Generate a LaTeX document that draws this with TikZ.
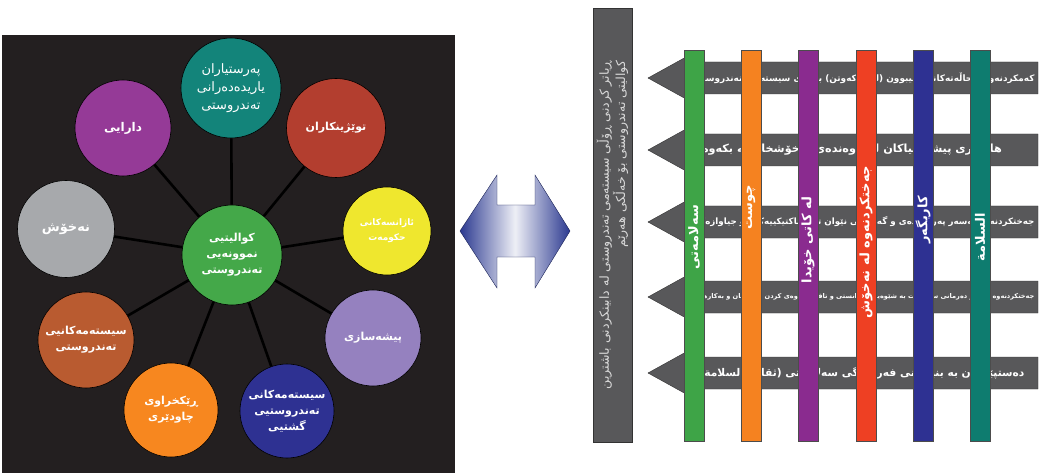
\documentclass[tikz,border=0pt]{standalone}
\usepackage{fontspec}
\newfontfamily\kufont[Script=Arabic]{DejaVu Sans}
\TeXXeTstate=1
\newcommand{\rl}[1]{\beginR#1\endR}
\definecolor{panel}{HTML}{231F20}
\definecolor{cteal}{HTML}{13847A}
\definecolor{cred}{HTML}{B33E2F}
\definecolor{cyellow}{HTML}{EFE72E}
\definecolor{clav}{HTML}{9581BF}
\definecolor{cnavy}{HTML}{2E3192}
\definecolor{corange}{HTML}{F7871F}
\definecolor{cbrown}{HTML}{B95B30}
\definecolor{cgray}{HTML}{A7A9AC}
\definecolor{cpurple}{HTML}{953A97}
\definecolor{cgreen}{HTML}{44A849}
\definecolor{boxgray}{HTML}{58585A}
\definecolor{bgreen}{HTML}{3EA447}
\definecolor{borange}{HTML}{F58220}
\definecolor{bpurple}{HTML}{8A2B8F}
\definecolor{bred}{HTML}{EE4023}
\definecolor{bteal}{HTML}{0E7C6F}
\definecolor{arrblue}{HTML}{2B3990}
\tikzset{
  disc/.style={circle,draw=black,line width=.6pt,minimum size=#1,inner sep=0pt,
    align=center,text=white,font=\kufont\bfseries\fontsize{11}{16}\selectfont},
  disc/.default=96pt,
  spoke/.style={line width=2.6pt,black},
  bar/.style={draw=black!70,line width=.4pt,minimum width=20pt,minimum height=391pt,inner sep=0pt},
  bartext/.style={rotate=90,text=white,font=\kufont\bfseries\fontsize{13}{15}\selectfont},
  arrtext/.style={text=white,font=\kufont\bfseries,inner sep=0pt}
}
\begin{document}
\begin{tikzpicture}[x=1pt,y=-1pt]
\useasboundingbox (0,0) rectangle (1045,476);
% left panel
\fill[panel] (2,35) rectangle (455,473);
\node[disc=100pt,fill=cgreen] (core) at (232,255) {\rl{کوالیتیی}\\\rl{نموونەیی}\\\rl{تەندروستی}};
\node[disc=100pt,fill=cteal,font=\kufont\fontsize{13}{18}\selectfont] (nurses) at (231,88) {\rl{پەرستیاران}\\\rl{یاریدەدەرانی}\\\rl{تەندروستی}};
\node[disc=99pt,fill=cred] (research) at (336,128) {\rl{توێژینکاران}};
\node[disc=88pt,fill=cyellow,font=\kufont\bfseries\fontsize{9}{15}\selectfont] (gov) at (387,231) {\rl{ئاژانسەکانی}\\\rl{حکومەت}};
\node[disc,fill=clav] (industry) at (373,338) {\rl{پیشەسازی}};
\node[disc=94pt,fill=cnavy] (pubhealth) at (287,411) {\rl{سیستەمەکانی}\\\rl{تەندروستیی}\\\rl{گشتیی}};
\node[disc=94pt,fill=corange] (regul) at (171,410) {\rl{ڕێکخراوی}\\\rl{چاودێری}};
\node[disc,fill=cbrown] (healthsys) at (86,340) {\rl{سیستەمەکانیی}\\\rl{تەندروستی}};
\node[disc=97pt,fill=cgray,font=\kufont\bfseries\fontsize{13}{16}\selectfont] (patient) at (66,229) {\rl{نەخۆش}};
\node[disc,fill=cpurple,font=\kufont\bfseries\fontsize{12}{16}\selectfont] (finance) at (123,128) {\rl{دارایی}};
\foreach \n in {nurses,research,gov,industry,pubhealth,regul,healthsys,patient,finance}
  \draw[spoke] (core) -- (\n);
% double arrow
\shade[left color=arrblue,right color=arrblue,middle color=arrblue!8,draw=arrblue!60!black,line width=.4pt]
  (460,231) -- (497,175) -- (497,205) -- (535,205) -- (535,175) -- (570,231)
  -- (535,288) -- (535,257) -- (497,257) -- (497,288) -- cycle;
% goal box
\node[draw=black!80,fill=boxgray,minimum width=39pt,minimum height=434pt,inner sep=0pt] (goal) at (612.5,225) {};
\node[rotate=90,align=right,text=black!15,font=\kufont\fontsize{12.5}{14}\selectfont] (goaltext) at (goal.center)
  {\rl{ڕیاتر کردنی ڕۆڵی سیستەمی تەندروستی لە دابینکردنی باشترین}\\\rl{کوالیتی تەندروستی بۆ خەڵکی هەرێم}};
% arrows
\foreach \y/\w/\x/\t in {
  78/345/862/{کەمکردنەوەی حاڵەتەکانی شیبوون (لەکارکەوتن) بەهۆی سیستەمی تەندروستییە},
  150/300/852/{هاوکاری پیشە جیاکان لە ناوەندەی نەخۆشخانەکە بکەوە},
  222/345/862/{جەختکردنەوە لەسەر پەروەردەی و گەیاندنی نێوان تیمە تاکتیکییەکان و جیاوازەکان},
  297/345/862/{جەختکردنەوە لەسەر دەرمانی سەلامەت بە شێوەیەکی زانستی و تاقیکردنەوەی کردن و دەرمان و بەکارهێنان},
  373/325/862/{دەستپێکردن بە بنیاتنانی فەرهەنگی سەلامەتی (ثقافة السلامة)}}{
  \filldraw[fill=boxgray,draw=black!80,line width=.4pt]
    (648,\y) -- (686,\y-21) -- (686,\y-16) -- (1038,\y-16) -- (1038,\y+16)
    -- (686,\y+16) -- (686,\y+21) -- cycle;
  \node[arrtext] at (\x,\y) {\resizebox{\w pt}{!}{\rl{\t}}};
}
% bars
\node[bar,fill=bgreen] (safe) at (694,245.5) {};
\node[bar,fill=borange] (efficient) at (751,245.5) {};
\node[bar,fill=bpurple] (timely) at (808,245.5) {};
\node[bar,fill=bred] (centred) at (866,245.5) {};
\node[bar,fill=cnavy] (effective) at (923,245.5) {};
\node[bar,fill=bteal] (equit) at (980,245.5) {};
\node[bartext] at (694,237) {\rl{سەلامەتی}};
\node[bartext] at (751,207) {\rl{چوست}};
\node[bartext] at (808,240) {\rl{لە کاتی خۆیدا}};
\node[bartext] at (866,242) {\rl{جەختکردنەوە لە نەخۆش}};
\node[bartext] at (923,220) {\rl{کاریگەر}};
\node[bartext] at (980,237) {\rl{السلامة}};
\end{tikzpicture}
\end{document}
